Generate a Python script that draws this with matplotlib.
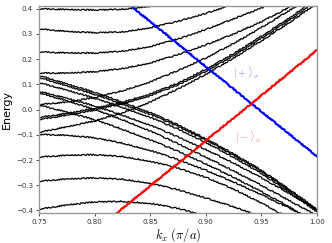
import matplotlib
matplotlib.use("Agg")
import matplotlib.pyplot as plt
import numpy as np

plt.rcParams['mathtext.fontset'] = 'cm'

# k grid shared by all bands (units of pi/a)
k = [0.75, 0.775, 0.80, 0.825, 0.85, 0.875, 0.90, 0.925, 0.95, 0.975, 1.00]

# bands going up to the top right
A1 = [0.400, 0.397, 0.395, 0.398, 0.410, 0.430, 0.460, 0.500, 0.540, 0.580, 0.620]
A2 = [0.320, 0.310, 0.305, 0.308, 0.325, 0.350, 0.382, 0.418, 0.460, 0.500, 0.550]
A3 = [0.229, 0.225, 0.224, 0.232, 0.250, 0.280, 0.318, 0.360, 0.403, 0.450, 0.500]
A4 = [0.145, 0.145, 0.150, 0.163, 0.185, 0.218, 0.257, 0.300, 0.348, 0.405, 0.450]
A5 = [0.020, 0.030, 0.048, 0.075, 0.110, 0.155, 0.205, 0.262, 0.325, 0.392, 0.460]
a1 = [-0.031, -0.015, 0.005, 0.030, 0.062, 0.105, 0.160, 0.222, 0.290, 0.362, 0.440]
a2 = [-0.039, -0.022, -0.002, 0.024, 0.055, 0.098, 0.152, 0.214, 0.282, 0.354, 0.430]
a3 = [-0.090, -0.068, -0.045, -0.012, 0.030, 0.082, 0.140, 0.204, 0.272, 0.344, 0.420]

# bands going down to the bottom right
D1 = [-0.395, -0.378, -0.366, -0.364, -0.372, -0.392, -0.420, -0.460, -0.500, -0.540, -0.580]
D2 = [-0.284, -0.275, -0.271, -0.276, -0.292, -0.318, -0.350, -0.385, -0.425, -0.470, -0.520]
D3 = [-0.188, -0.181, -0.179, -0.186, -0.205, -0.232, -0.268, -0.315, -0.370, -0.430, -0.480]
D4 = [-0.098, -0.102, -0.112, -0.133, -0.162, -0.198, -0.240, -0.287, -0.337, -0.390, -0.445]
d6 = [0.018, -0.010, -0.040, -0.078, -0.120, -0.165, -0.215, -0.268, -0.325, -0.385, -0.450]
d5 = [0.066, 0.035, 0.000, -0.040, -0.085, -0.135, -0.188, -0.243, -0.300, -0.360, -0.420]
d4 = [0.072, 0.045, 0.014, -0.022, -0.062, -0.108, -0.158, -0.212, -0.270, -0.332, -0.395]
d3 = [0.107, 0.077, 0.045, 0.009, -0.031, -0.077, -0.130, -0.189, -0.253, -0.327, -0.405]
d2 = [0.127, 0.094, 0.060, 0.022, -0.019, -0.066, -0.120, -0.180, -0.245, -0.320, -0.400]
d1 = [0.135, 0.102, 0.068, 0.030, -0.012, -0.060, -0.115, -0.175, -0.240, -0.315, -0.395]

bands = [A1, A2, A3, A4, A5, a1, a2, a3, D1, D2, D3, D4, d6, d5, d4, d3, d2, d1]

# edge states |+>_x and |->_x
plus_k = [0.83, 1.00]
plus_E = [0.42, -0.185]
minus_k = [0.82, 1.00]
minus_E = [-0.41, 0.235]

fig = plt.figure(figsize=(3.32, 2.43), dpi=100)
ax = fig.add_axes([0.1184, 0.1235, 0.8355, 0.853])

for b in bands:
    ln, = ax.plot(k, b, color='black', lw=0.9)
    ln.set_sketch_params(0.6, 3, 3)

ln, = ax.plot(plus_k, plus_E, color='blue', lw=1.5)
ln.set_sketch_params(0.5, 3, 3)
ln, = ax.plot(minus_k, minus_E, color='red', lw=1.5)
ln.set_sketch_params(0.5, 3, 3)

ax.text(0.9363, 0.147, r'$|+\rangle_x$', color='#7f7fff', fontsize=7.5,
        ha='center', va='center')
ax.text(0.938, -0.106, r'$|-\rangle_x$', color='#ff7070', fontsize=7.5,
        ha='center', va='center')

ax.set_xlim(0.75, 1.00)
ax.set_ylim(-0.41, 0.412)
ax.set_xticks([0.75, 0.80, 0.85, 0.90, 0.95, 1.00])
ax.set_xticklabels(['0.75', '0.80', '0.85', '0.90', '0.95', '1.00'])
ax.set_yticks([-0.4, -0.3, -0.2, -0.1, 0.0, 0.1, 0.2, 0.3, 0.4])
ax.set_yticklabels(['\u22120.4', '\u22120.3', '\u22120.2', '\u22120.1', '0.0',
                    '0.1', '0.2', '0.3', '0.4'])
ax.tick_params(labelsize=5, colors='#333333', length=2.5, width=0.6, pad=2)
for s in ax.spines.values():
    s.set_color('#999999')
    s.set_linewidth(1.0)

ax.set_ylabel('Energy', fontsize=8, labelpad=3)
ax.set_xlabel(r'$k_x\ (\pi/a)$', fontsize=9, labelpad=1)

fig.savefig('out.png', dpi=100)
